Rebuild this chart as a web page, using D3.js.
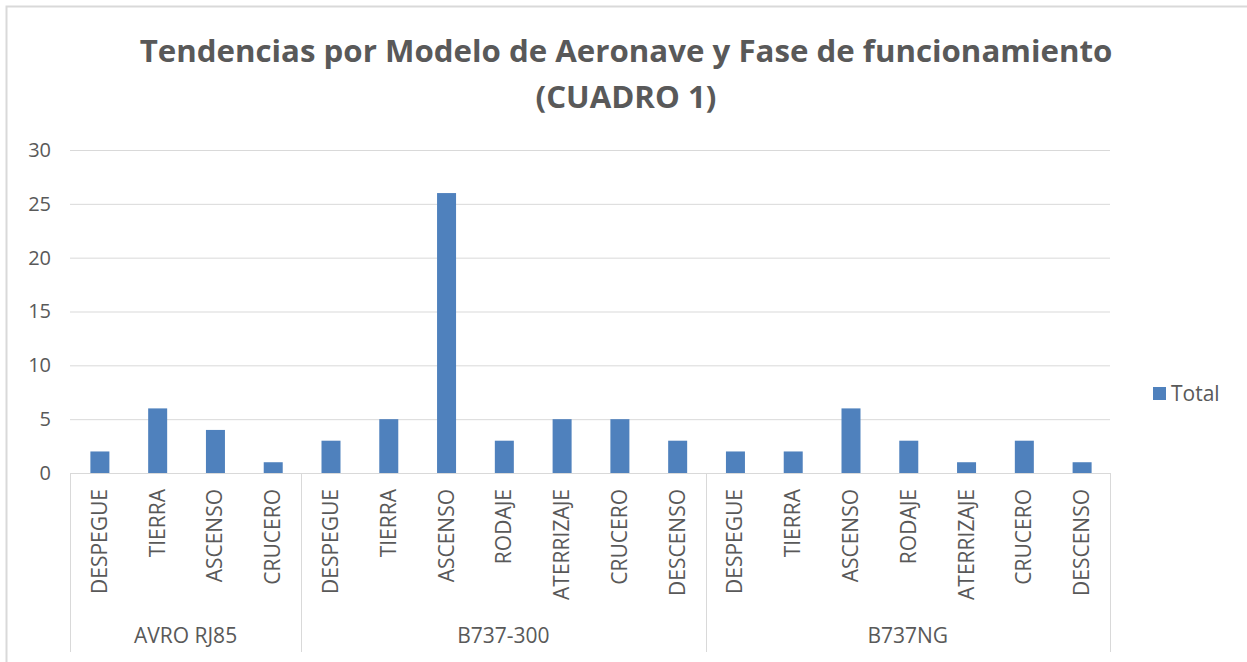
<!DOCTYPE html>
<html><head><meta charset="utf-8">
<script src="https://cdn.jsdelivr.net/npm/d3@7"></script>
<style>body{margin:0;background:#fff;} svg{display:block;}</style>
</head><body>
<script>
const groups = ["AVRO RJ85", "B737-300", "B737NG"];
const phasesAvro = ["DESPEGUE", "TIERRA", "ASCENSO", "CRUCERO"];
const phasesB300 = ["DESPEGUE", "TIERRA", "ASCENSO", "RODAJE", "ATERRIZAJE", "CRUCERO", "DESCENSO"];
const phasesBNG = ["DESPEGUE", "TIERRA", "ASCENSO", "RODAJE", "ATERRIZAJE", "CRUCERO", "DESCENSO"];
const valuesAvro = [2, 6, 4, 1];
const valuesB300 = [3, 5, 26, 3, 5, 5, 3];
const valuesBNG = [2, 2, 6, 3, 1, 3, 1];
const yTicks = [0, 5, 10, 15, 20, 25, 30];
const seriesName = "Total";
const titleLines = ["Tendencias por Modelo de Aeronave y Fase de funcionamiento", "(CUADRO 1)"];

(function () {
const phaseLists = [phasesAvro, phasesB300, phasesBNG];
const valueLists = [valuesAvro, valuesB300, valuesBNG];
const data = [];
groups.forEach((g, gi) => phaseLists[gi].forEach((p, i) => data.push({group: g, phase: p, value: valueLists[gi][i], key: g + "|" + i})));

const W = 1247, H = 662;
const svg = d3.select("body").append("svg").attr("width", W).attr("height", H);
const font = "'Open Sans', 'Liberation Sans', sans-serif";
const textColor = "#595959";

svg.append("path").attr("d", `M6.5,${H} V6.5 H${W}`).attr("fill", "none").attr("stroke", "#d9d9d9").attr("stroke-width", 2);

const pl = 70, pr = 1110, pt = 150, pb = 473;
const x = d3.scaleBand().domain(data.map(d => d.key)).range([pl, pr]).padding(0);
const y = d3.scaleLinear().domain([0, 30]).range([pb, pt]);

svg.append("g").selectAll("line").data(yTicks.filter(t => t > 0)).join("line")
  .attr("x1", pl).attr("x2", pr).attr("y1", d => y(d) + 0.5).attr("y2", d => y(d) + 0.5)
  .attr("stroke", "#d9d9d9").attr("stroke-width", 1);

const yAxis = d3.axisLeft(y).tickValues(yTicks).tickSize(0).tickPadding(19);
const yg = svg.append("g").attr("transform", `translate(${pl},0)`).call(yAxis);
yg.select(".domain").remove();
yg.selectAll("text").attr("font-family", font).attr("font-size", 20).attr("fill", textColor);

const bw = 19;
svg.append("g").selectAll("rect").data(data).join("rect")
  .attr("x", d => x(d.key) + (x.bandwidth() - bw) / 2 + 1)
  .attr("width", bw)
  .attr("y", d => y(d.value))
  .attr("height", d => y(0) - y(d.value))
  .attr("fill", "#4f81bd");

svg.append("line").attr("x1", pl).attr("x2", pr).attr("y1", pb + 0.5).attr("y2", pb + 0.5).attr("stroke", "#d9d9d9");

const bounds = [0];
let acc = 0;
phaseLists.forEach(l => { acc += l.length; bounds.push(acc); });
const sepX = bounds.map(b => b < data.length ? x(data[b].key) : pr);
svg.append("g").selectAll("line").data(sepX).join("line")
  .attr("x1", d => Math.round(d) + 0.5).attr("x2", d => Math.round(d) + 0.5)
  .attr("y1", pb).attr("y2", 652).attr("stroke", "#d9d9d9");

svg.append("g").selectAll("text").data(data).join("text")
  .attr("transform", d => `translate(${x(d.key) + x.bandwidth() / 2 + 8},489) rotate(-90)`)
  .attr("text-anchor", "end")
  .attr("font-family", font).attr("font-size", 21).attr("fill", textColor)
  .text(d => d.phase);

svg.append("g").selectAll("text").data(groups).join("text")
  .attr("x", (d, i) => (sepX[i] + sepX[i + 1]) / 2)
  .attr("y", 643)
  .attr("text-anchor", "middle")
  .attr("font-family", font).attr("font-size", 21).attr("fill", textColor)
  .text(d => d);

const fsT = 31;
const t = svg.append("g").selectAll("text").data(titleLines).join("text")
  .attr("text-anchor", "middle")
  .attr("font-family", font).attr("font-weight", "bold").attr("font-size", fsT).attr("fill", textColor)
  .text(d => d);
const w0 = t.nodes()[0].getComputedTextLength();
const sx = 973 / w0;
t.attr("transform", (d, i) => `translate(626,${62 + i * 46}) scale(${sx},1)`);

svg.append("rect").attr("x", 1153).attr("y", 387).attr("width", 13).attr("height", 13).attr("fill", "#4f81bd");
svg.append("text").attr("x", 1171).attr("y", 401).attr("font-family", font).attr("font-size", 21).attr("fill", textColor).text(seriesName);
})();
</script>
</body></html>
